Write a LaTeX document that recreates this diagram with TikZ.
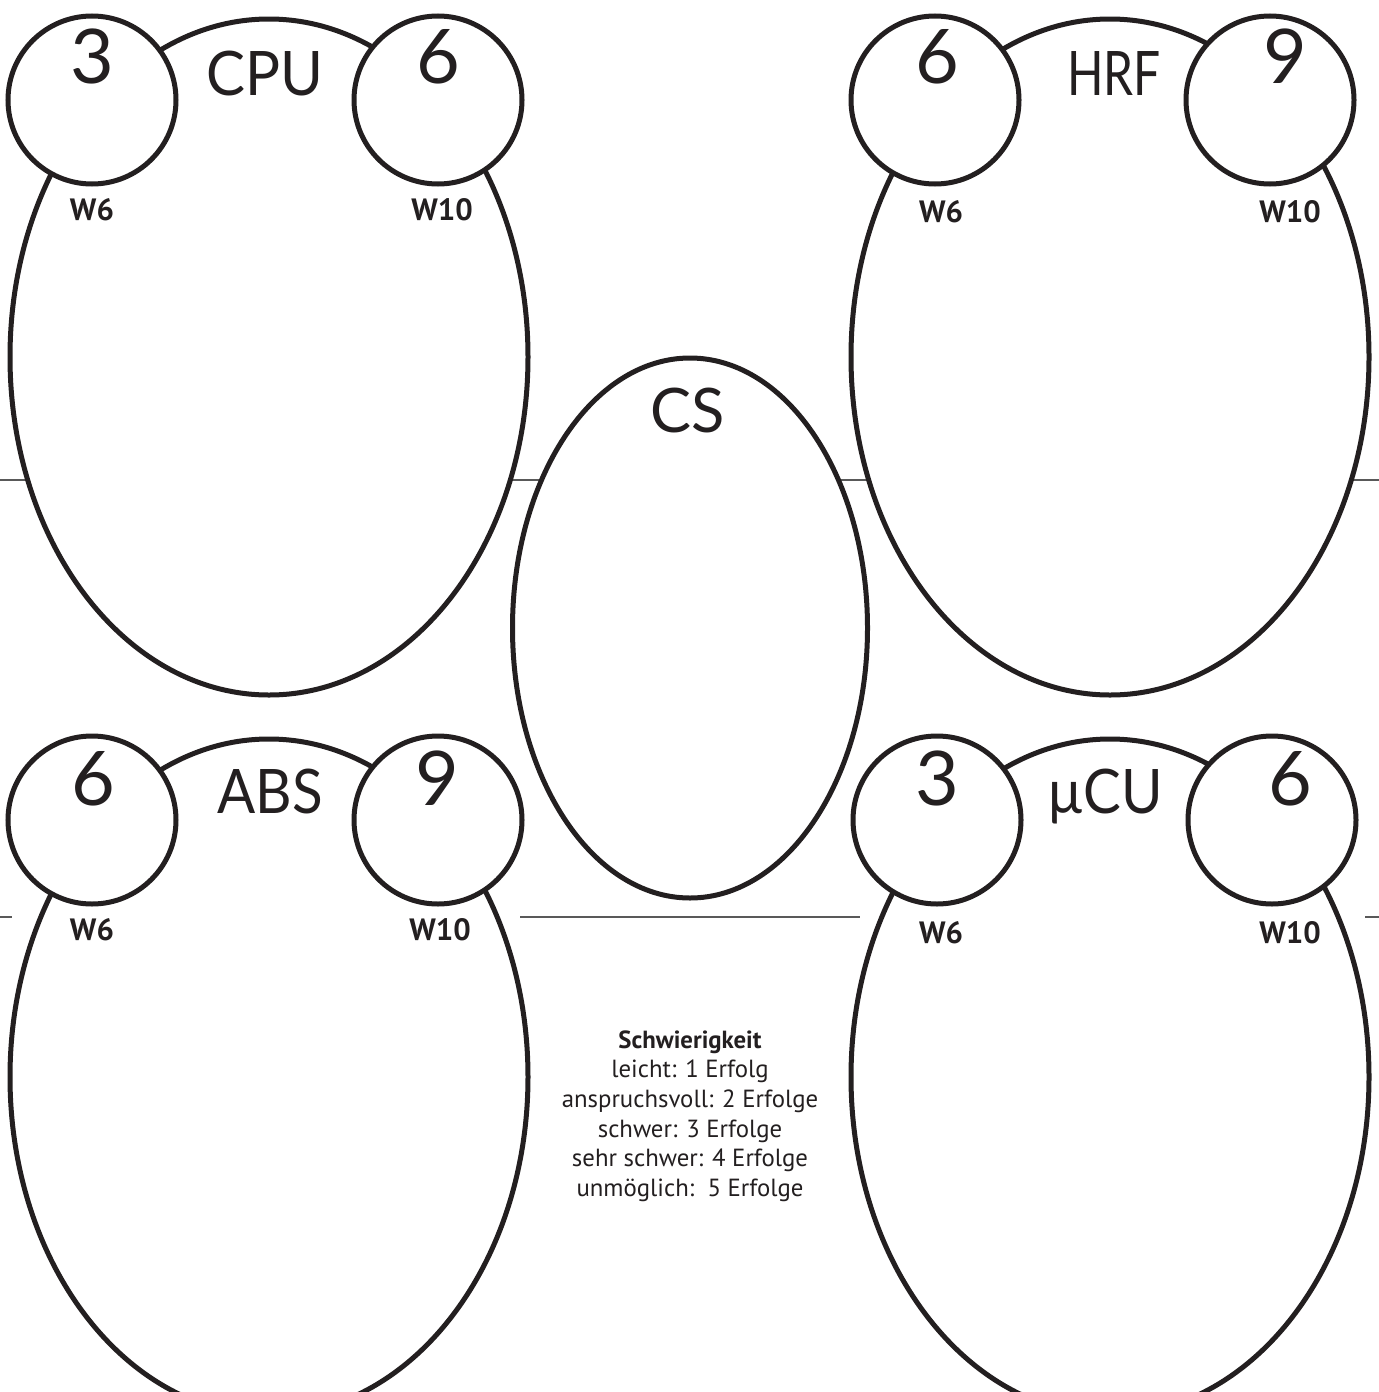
\documentclass[tikz,border=0pt]{standalone}
\usepackage{fontspec}
\usepackage{graphicx}
\setmainfont{PT Sans}
\newfontfamily\bigfont{Lato}
\usetikzlibrary{shapes.geometric}
\definecolor{ink}{RGB}{35,31,32}
\begin{document}
\begin{tikzpicture}[x=0.5pt,y=-0.5pt,
  egg/.style={ellipse, draw=ink, line width=2.5pt, fill=white, inner sep=0pt},
  dial/.style={circle, draw=ink, line width=2.5pt, fill=white, inner sep=0pt, minimum size=84pt},
  num/.style={anchor=base, inner sep=0pt, text=ink, font=\bigfont\fontsize{37.7}{40}\selectfont},
  ttl/.style={anchor=base, inner sep=0pt, text=ink, font=\bigfont\fontsize{30.7}{33}\selectfont},
  die/.style={anchor=base, inner sep=0pt, text=ink, font=\bfseries\fontsize{15.4}{17}\selectfont},
  cut/.style={draw=black!65, line width=0.75pt}]
\useasboundingbox (0,0) rectangle (1379,1392);
% cut lines
\coordinate (la) at (0,480); \coordinate (lb) at (1379,480);
\draw[cut] (la) -- (lb);
\coordinate (lc1) at (0,917); \coordinate (lc2) at (12,917);
\coordinate (lc3) at (520,917); \coordinate (lc4) at (860,917);
\coordinate (lc5) at (1365,917); \coordinate (lc6) at (1379,917);
\draw[cut] (lc1) -- (lc2) (lc3) -- (lc4) (lc5) -- (lc6);
% big ellipses
\node[egg, minimum width=259pt, minimum height=338pt] (cpu) at (269,357) {};
\node[egg, minimum width=259pt, minimum height=338pt] (hrf) at (1110,357) {};
\node[egg, minimum width=259pt, minimum height=338pt] (abs) at (269,1077) {};
\node[egg, minimum width=259pt, minimum height=338pt] (mcu) at (1110,1077) {};
\node[egg, minimum width=177.5pt, minimum height=270pt] (cs) at (690,628) {};
% dials
\node[dial] (cpuL) at (92,100) {};
\node[dial] (cpuR) at (438,100) {};
\node[dial] (hrfL) at (935,100) {};
\node[dial] (hrfR) at (1270,100) {};
\node[dial] (absL) at (92,820) {};
\node[dial] (absR) at (438,820) {};
\node[dial] (mcuL) at (937,820) {};
\node[dial] (mcuR) at (1272,820) {};
% CPU
\node[num] (t1) at (92,83) {3};
\node[ttl] (t2) at (265,95) {\scalebox{0.95}[1]{CPU}};
\node[num] (t3) at (438,83) {6};
\node[die] (t4) at (92,220) {W6};
\node[die] (t5) at (442,220) {W10};
% HRF
\node[num] (t6) at (937,83) {6};
\node[ttl] (t7) at (1114,95) {\scalebox{0.78}[1]{HRF}};
\node[num] (t8) at (1285,83) {9};
\node[die] (t9) at (941,222) {W6};
\node[die] (t10) at (1290,222) {W10};
% CS
\node[ttl] (t11) at (688,432) {CS};
% ABS
\node[num] (t12) at (93,805) {6};
\node[ttl] (t13) at (270,813) {\scalebox{0.92}[1]{ABS}};
\node[num] (t14) at (437,805) {9};
\node[die] (t15) at (92,940) {W6};
\node[die] (t16) at (440,940) {W10};
% MCU
\node[num] (t17) at (937,805) {3};
\node[ttl] (t18) at (1105,813) {\scalebox{0.92}[1]{µCU}};
\node[num] (t19) at (1290,805) {6};
\node[die] (t20) at (941,943) {W6};
\node[die] (t21) at (1290,943) {W10};
% legend
\node[align=center, inner sep=0pt, text=ink, font=\fontsize{12.4}{14.8}\selectfont] (leg) at (690,1116)
  {\textbf{Schwierigkeit}\\leicht: 1 Erfolg\\anspruchsvoll: 2 Erfolge\\schwer: 3 Erfolge\\sehr schwer: 4 Erfolge\\unmöglich:\ \ 5 Erfolge};
\end{tikzpicture}
\end{document}
